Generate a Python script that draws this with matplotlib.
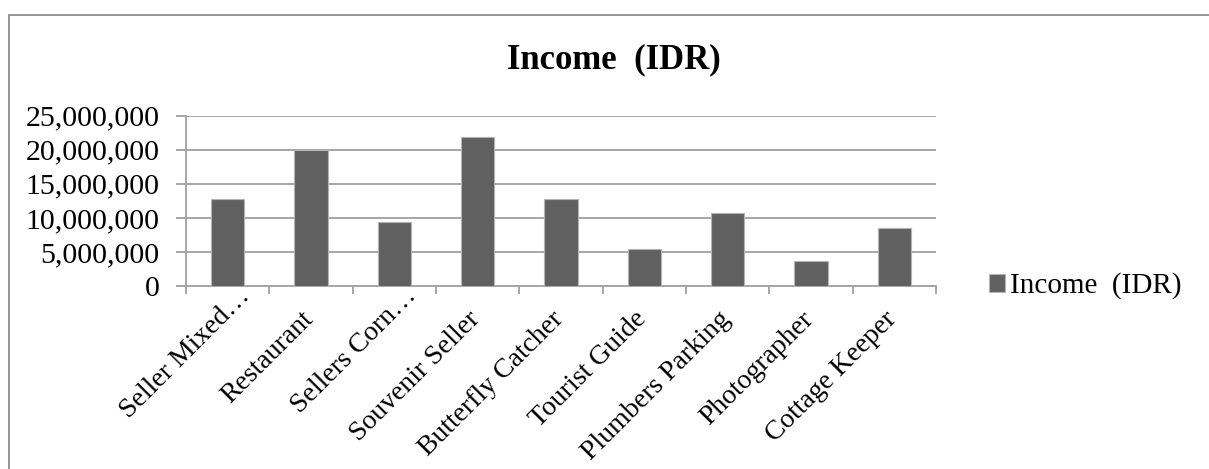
## Import Required Packages
import matplotlib
matplotlib.use('Agg')
import matplotlib.pyplot as plt
import matplotlib.transforms as mtransforms
import numpy as np
from matplotlib.ticker import FuncFormatter, FixedLocator
from matplotlib.patches import Rectangle

## Data
categories = ['Seller Mixed\u2026', 'Restaurant', 'Sellers Corn\u2026', 'Souvenir Seller',
              'Butterfly Catcher', 'Tourist Guide', 'Plumbers Parking', 'Photographer',
              'Cottage Keeper']
income = [12800000, 20000000, 9400000, 21800000, 12800000, 5500000, 10700000, 3600000, 8500000]
y_ticks = [0, 5000000, 10000000, 15000000, 20000000, 25000000]
series_name = 'Income  (IDR)'

plt.rcParams['font.family'] = ['Liberation Serif', 'DejaVu Serif']

fig = plt.figure(figsize=(12.09, 4.69), dpi=100)
ax = fig.add_axes([0.1538, 0.3902, 0.6204, 0.3631])

## Outer chart border (left and top edges visible)
fig.patches.append(Rectangle((9 / 1209, -0.1), 1.2, 1 - 15 / 469 + 0.1,
                             transform=fig.transFigure, fill=False,
                             edgecolor='#8c8c8c', linewidth=1.3))

## Bars
x = np.arange(len(categories))
ax.bar(x, income, width=0.4, color='#606060', edgecolor='#b4b4b4', linewidth=0.8,
       label=series_name, zorder=3)

## Axes styling
ax.set_xlim(-0.5, len(categories) - 0.5)
ax.set_ylim(0, 25000000)
ax.set_yticks(y_ticks)
ax.yaxis.set_major_formatter(FuncFormatter(lambda v, p: f'{int(v):,}'))
ax.grid(axis='y', color='#a6a6a6', linewidth=1.4, zorder=0)
for side in ['top', 'right']:
    ax.spines[side].set_visible(False)
for side in ['left', 'bottom']:
    ax.spines[side].set_color('#a6a6a6')
    ax.spines[side].set_linewidth(1.4)

ax.set_xticks(x)
ax.set_xticklabels(categories, rotation=45, ha='right', rotation_mode='anchor', fontsize=20)
ax.xaxis.set_minor_locator(FixedLocator(np.arange(-0.5, len(categories), 1)))
ax.tick_params(axis='x', which='major', length=0, pad=9)
ax.tick_params(axis='x', which='minor', length=6, width=1.4, color='#a6a6a6')
ax.tick_params(axis='y', length=7, width=1.4, color='#a6a6a6', labelsize=21.5, pad=12)

# nudge the slanted category labels; shortened ones sit further up-right
for lbl in ax.get_xticklabels():
    if lbl.get_text().endswith('\u2026'):
        dx, dy = 0.10, 0.15
    else:
        dx, dy = -0.10, -0.08
    lbl.set_transform(lbl.get_transform() + mtransforms.ScaledTranslation(dx, dy, fig.dpi_scale_trans))

## Title and legend
fig.text(0.508, 0.872, 'Income  (IDR)', ha='center', va='center', fontsize=25, fontweight='bold')
ax.legend(loc='center left', bbox_to_anchor=(1.035, 0.0), frameon=False, fontsize=21,
          handlelength=0.55, handleheight=0.55, handletextpad=0.2)

fig.savefig('out.png', dpi=100)
